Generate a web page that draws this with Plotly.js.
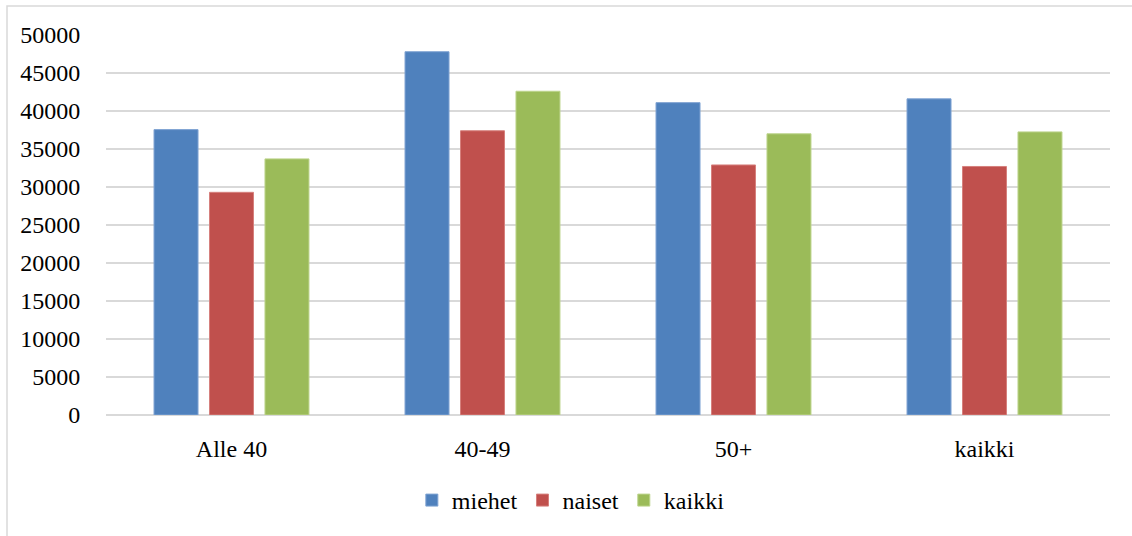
<!DOCTYPE html>
<html>
<head>
<meta charset="utf-8">
<script src="https://cdn.plot.ly/plotly-3.0.1.min.js"></script>
<style>html,body{margin:0;padding:0;background:#fff;}#chart{width:1132px;height:536px;}</style>
</head>
<body>
<div id="chart"></div>
<script>
const categories = ["Alle 40", "40-49", "50+", "kaikki"];
const miehet = [37550, 47800, 41100, 41600];
const naiset = [29300, 37400, 32900, 32700];
const kaikki = [33700, 42600, 37000, 37250];
const seriesNames = ["miehet", "naiset", "kaikki"];
const yTicks = [0, 5000, 10000, 15000, 20000, 25000, 30000, 35000, 40000, 45000, 50000];

const colors = ["#4f81bd", "#c0504d", "#9bbb59"];
const edges = ["#7fa3d2", "#d6807d", "#bdd48c"];
const mkFont = () => ({family: "Liberation Serif", size: 24, color: "#000"});

const data = [miehet, naiset, kaikki].map((vals, i) => ({
  type: "bar",
  name: seriesNames[i],
  x: categories,
  y: vals,
  marker: {color: colors[i], line: {color: edges[i], width: 1}},
  hoverinfo: "x+y+name"
}));

const layout = {
  width: 1132, height: 536,
  margin: {l: 106, r: 22, t: 35, b: 121, pad: 0},
  paper_bgcolor: "#fff", plot_bgcolor: "#fff",
  font: mkFont(),
  barmode: "group",
  bargap: 0.337,
  bargroupgap: 0.207,
  showlegend: true,
  legend: {orientation: "h", x: 0.463, xanchor: "center", y: -0.225, yanchor: "middle",
           font: mkFont(), itemwidth: 30, traceorder: "normal"},
  xaxis: {type: "category", showgrid: false, zeroline: false, showline: false,
          ticks: "outside", ticklen: 12, tickcolor: "rgba(0,0,0,0)", tickfont: mkFont()},
  yaxis: {range: [0, 50000], tickvals: yTicks, ticktext: yTicks.map(String),
          showgrid: true, gridcolor: "#d9d9d9", gridwidth: 1.5,
          zeroline: true, zerolinecolor: "#d9d9d9", zerolinewidth: 1.5,
          showline: false, ticks: "outside", ticklen: 20, tickcolor: "rgba(0,0,0,0)",
          tickfont: mkFont(), fixedrange: true},
  shapes: [{type: "rect", xref: "paper", yref: "paper",
            x0: -99/1004, x1: 1.2, y0: -0.5, y1: 1 + 29/380,
            line: {color: "#d9d9d9", width: 1.5}, fillcolor: "rgba(0,0,0,0)", layer: "below"}]
};

Plotly.newPlot("chart", data, layout, {displayModeBar: false, staticPlot: true});
</script>
</body>
</html>
